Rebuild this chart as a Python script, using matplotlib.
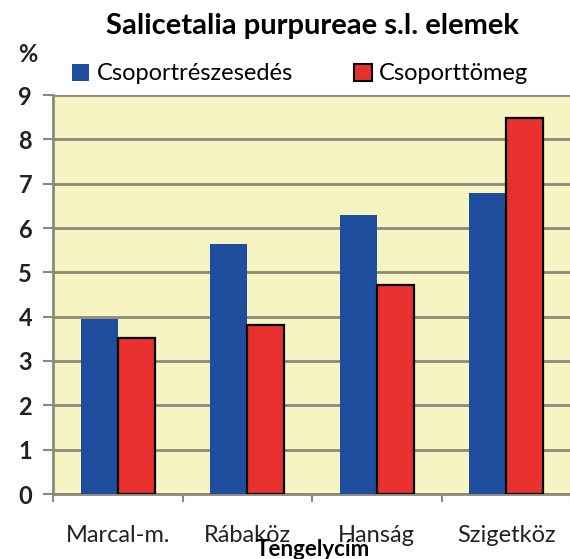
import matplotlib
matplotlib.use("Agg")
import matplotlib.pyplot as plt
import numpy as np
from matplotlib.patches import Patch

# data
categories = ["Marcal-m.", "Rábaköz", "Hanság", "Szigetköz"]
reszesedes = [3.94, 5.65, 6.30, 6.78]
tomeg = [3.51, 3.81, 4.72, 8.48]
series_names = ["Csoportrészesedés", "Csoporttömeg"]
y_ticks = list(range(0, 10))

BLUE = "#1F4E9E"
RED = "#E8302E"
PLOT_BG = "#F6F4C2"
GRID = "#8E8878"

plt.rcParams["font.family"] = ["Lato", "DejaVu Sans"]

fig = plt.figure(figsize=(5.70, 5.59), dpi=100)
ax = fig.add_axes([53 / 570, 65 / 559, 518 / 570, 399 / 559])
ax.set_facecolor(PLOT_BG)

x = np.arange(len(categories))
w = 0.285
ax.bar(x - w / 2, reszesedes, w, color=BLUE, edgecolor="none", zorder=3)
ax.bar(x + w / 2, tomeg, w, color=RED, edgecolor="black", linewidth=1.6, zorder=3)

ax.set_xlim(-0.5, len(categories) - 0.5)
ax.set_ylim(0, 9)
ax.set_yticks(y_ticks)
ax.set_yticklabels([str(v) for v in y_ticks], fontsize=17, fontweight="bold", color="#222222")
ax.yaxis.grid(True, color=GRID, linewidth=2, zorder=1)
ax.tick_params(axis="y", length=7, width=1.5, color=GRID, pad=8)

ax.set_xticks(x)
ax.set_xticklabels(categories, fontsize=17, color="#222222")
ax.tick_params(axis="x", which="major", length=0, pad=22)
ax.set_xticks(np.arange(-0.5, len(categories) - 0.4, 1.0), minor=True)
ax.tick_params(axis="x", which="minor", length=6, width=1.5, color=GRID)

for side in ["top", "right"]:
    ax.spines[side].set_visible(False)
ax.spines["left"].set_color(GRID)
ax.spines["left"].set_linewidth(2)
ax.spines["bottom"].set_color(GRID)
ax.spines["bottom"].set_linewidth(2)

fig.text(312 / 570, 1 - 26 / 559, "Salicetalia purpureae s.l. elemek",
         ha="center", va="center", fontsize=21, fontweight="bold")
fig.text(28 / 570, 1 - 55 / 559, "%", ha="center", va="center", fontsize=17, fontweight="bold",
         color="#222222")
fig.text(313 / 570, 1 - 549 / 559, "Tengelycím", ha="center", va="center",
         fontsize=16, fontweight="bold")

handles = [Patch(facecolor=BLUE, edgecolor="none"),
           Patch(facecolor=RED, edgecolor="black", linewidth=1.5)]
fig.legend(handles, series_names, loc="center", bbox_to_anchor=(300 / 570, 1 - 74 / 559),
           ncol=2, frameon=False, fontsize=17, handlelength=0.75, handleheight=0.75,
           handletextpad=0.3, columnspacing=2.6)

fig.savefig("out.png", dpi=100, facecolor="white")
